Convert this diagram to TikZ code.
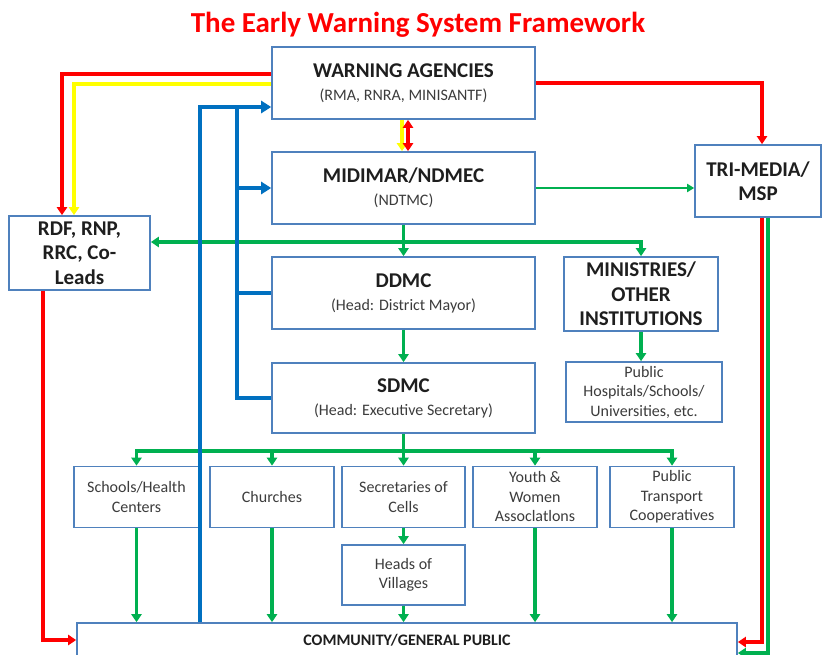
\documentclass[tikz,border=0pt]{standalone}
\usepackage{fontspec}
\setmainfont{Carlito}
\usetikzlibrary{positioning,arrows.meta,calc}
\definecolor{boxline}   {HTML}{4F81BD}
\definecolor{flowblue}  {HTML}{0070C0}
\definecolor{flowgreen} {HTML}{00B050}
\definecolor{flowred}   {HTML}{FF0000}
\definecolor{flowyellow}{HTML}{FFFF00}
\definecolor{ink}       {HTML}{1E1E1E}
\definecolor{ink60}     {HTML}{3C3C3C}

\begin{document}
\begin{tikzpicture}[
  x=1pt, y=-1pt,
  >={Triangle[length=8pt,width=10pt]},
  box/.style={draw=boxline, line width=1.6pt, fill=white, align=center, inner sep=0pt, text=ink},
  hd/.style={font=\bfseries\fontsize{21}{24.5}\selectfont},
  bd/.style={font=\fontsize{16}{19.5}\selectfont, text=ink60},
  pr/.style={font=\fontsize{16}{23}\selectfont, text=ink60},
  flow/.style={line width=3.5pt, ->},
  bus/.style={line width=3.5pt}
]
\useasboundingbox[fill=white] (0,0) rectangle (822,655);

\node[anchor=base, font=\bfseries\fontsize{29}{33}\selectfont, text=flowred] (title) at (418,33) {The Early Warning System Framework};

\node[box, pr, minimum width=263, minimum height=72] (warn) at (403.5,83)
  {{\bfseries\fontsize{21}{23}\selectfont\color{ink} WARNING AGENCIES}\\(RMA, RNRA, MINISANTF)};
\node[box, pr, minimum width=263, minimum height=72] (midi) at (403.5,188)
  {{\bfseries\fontsize{21}{23}\selectfont\color{ink} MIDIMAR/NDMEC}\\(NDTMC)};
\node[box, pr, minimum width=263, minimum height=72] (ddmc) at (403.5,293)
  {{\bfseries\fontsize{21}{23}\selectfont\color{ink} DDMC}\\(Head: District Mayor)};
\node[box, pr, minimum width=263, minimum height=70] (sdmc) at (403.5,398)
  {{\bfseries\fontsize{21}{23}\selectfont\color{ink} SDMC}\\(Head: Executive Secretary)};
\node[box, hd, minimum width=126, minimum height=72] (tri) at (758,181) {TRI-MEDIA/\\MSP};
\node[box, hd, minimum width=141, minimum height=74] (rdf) at (79.5,253) {RDF, RNP,\\RRC, Co-\\Leads};
\node[box, hd, minimum width=154, minimum height=74] (mini) at (641,294) {MINISTRIES/\\OTHER\\INSTITUTIONS};
\node[box, bd, minimum width=156, minimum height=60] (hosp) at (644,392) {Public\\Hospitals/Schools/\\Universities, etc.};

\node[box, bd, minimum width=125, minimum height=61] (sch) at (136.5,497) {Schools/Health\\Centers};
\node[box, bd, minimum width=124, minimum height=61] (chu) at (272,497) {Churches};
\node[box, bd, minimum width=123, minimum height=61] (sec) at (403.5,497) {Secretaries of\\Cells};
\node[box, bd, minimum width=124, minimum height=61] (you) at (535,497) {Youth \&\\Women\\Assoclatlons};
\node[box, bd, minimum width=124, minimum height=61] (tra) at (672,497) {Public\\Transport\\Cooperatives};
\node[box, bd, minimum width=123, minimum height=60] (head) at (403.5,575) {Heads of\\Villages};
\node[box, font=\bfseries\fontsize{16}{18}\selectfont, minimum width=660, minimum height=34] (comm) at (407,640) {COMMUNITY/GENERAL PUBLIC};

% warnings out of the agencies
\draw[flow, color=flowred] ([yshift=9pt]warn.west) -| ([xshift=-17.5pt]rdf.north);
\draw[flow, color=flowyellow] ([yshift=-1pt]warn.west) -| ([xshift=-5.5pt]rdf.north);
\draw[flow, color=flowred] (warn.east) -| ([xshift=4pt]tri.north);
\draw[flow, color=flowyellow] ([xshift=-1.5pt]warn.south) -- ([xshift=-1.5pt]midi.north);
\draw[flow, <->, color=flowred] ([xshift=4.5pt]warn.south) -- ([xshift=4.5pt]midi.north);
\draw[flow, color=flowred] ([xshift=4pt]tri.south) |- ([yshift=-2pt]comm.east);
\draw[flow, color=flowgreen] ([xshift=10pt]tri.south) |- ([yshift=-13pt]comm.east);
\draw[flow, color=flowred] ([xshift=-36.5pt]rdf.south) |- (comm.west);

% national to local
\coordinate (hub) at (403.5,242);
\coordinate (hub2) at (403.5,451);
\draw[flow, color=flowgreen, line width=2pt, >={Triangle[length=7pt,width=8pt]}] (midi.east) -- (midi.east -| tri.west);
\draw[flow, color=flowgreen] (hub) -- (hub -| rdf.east);
\draw[flow, color=flowgreen] (hub) -| (mini.north);
\draw[flow, color=flowgreen] (midi.south) -- (ddmc.north);
\draw[flow, color=flowgreen] (ddmc.south) -- (sdmc.north);
\draw[flow, color=flowgreen] (mini.south) -- (mini.south |- hosp.north);
\draw[bus, color=flowgreen] (sdmc.south) -- (hub2);
\draw[bus, color=flowgreen] (hub2 -| sch.north) -- (hub2 -| tra.north);
\foreach \n in {sch,chu,sec,you,tra}
  \draw[flow, color=flowgreen] ([yshift=1.75pt]hub2 -| \n.north) -- (\n.north);
\foreach \n in {sch,chu,you,tra,head}
  \draw[flow, color=flowgreen] (\n.south) -- (\n.south |- comm.north);
\draw[flow, color=flowgreen] (sec.south) -- (head.north);

% feedback
\coordinate (bx) at (200,0);
\coordinate (bi) at (237,107);
\draw[flow, color=flowblue, >={Triangle[length=10pt,width=12pt]}] (comm.north -| bx) |- ([yshift=-24pt]warn.west);
\draw[bus, color=flowblue] (bi) |- (sdmc.west);
\draw[bus, color=flowblue] (bi |- ddmc.west) -- (ddmc.west);
\draw[flow, color=flowblue, >={Triangle[length=10pt,width=12pt]}] (bi |- midi.west) -- (midi.west);
\end{tikzpicture}
\end{document}
